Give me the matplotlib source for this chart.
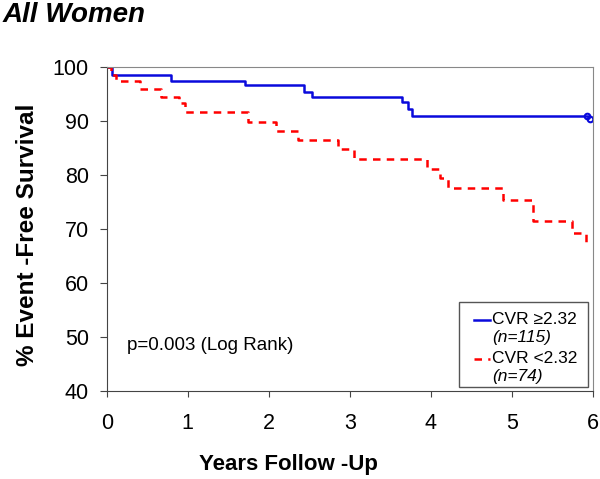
import matplotlib.pyplot as plt
from matplotlib.patches import Rectangle

plt.rcParams['font.family'] = ['Liberation Sans', 'DejaVu Sans']

# curva CVR >= 2.32 (tiempos en años, supervivencia en %)
t_alto = [0, 0.06, 0.79, 1.71, 2.43, 2.53, 3.65, 3.72, 3.77, 5.95]
s_alto = [100, 98.5, 97.5, 96.6, 95.4, 94.5, 93.6, 92.2, 91.0, 91.0]
cens_t = [5.93, 5.97]
cens_s = [90.9, 90.4]

# curva CVR < 2.32
t_bajo = [0, 0.05, 0.11, 0.41, 0.67, 0.89, 0.97, 1.74, 2.09, 2.36, 2.86,
          3.05, 3.95, 4.11, 4.21, 4.89, 5.26, 5.74, 5.92, 5.94]
s_bajo = [100, 98.5, 97.5, 95.9, 94.5, 93.3, 91.6, 89.9, 88.2, 86.5, 84.8,
          83.0, 81.2, 79.4, 77.5, 75.4, 71.4, 69.2, 67.0, 67.0]

xticks = [0, 1, 2, 3, 4, 5, 6]
yticks = [40, 50, 60, 70, 80, 90, 100]
etiquetas = ['CVR ≥2.32', 'CVR <2.32']
grupos_n = ['(n=115)', '(n=74)']

azul = '#0a0adc'
rojo = '#ff0000'

fig = plt.figure(figsize=(6, 4.79), dpi=100)
ax = fig.add_axes([0.178, 0.184, 0.81, 0.676])

ax.step(t_alto, s_alto, where='post', color=azul, lw=1.8)
ax.plot(cens_t, cens_s, 'o', mfc='none', mec=azul, ms=4, mew=1.5)
ax.step(t_bajo, s_bajo, where='post', color=rojo, lw=1.8, dashes=(3, 2.5))

ax.set_xlim(0, 6)
ax.set_ylim(40, 100)
ax.set_xticks(xticks)
ax.set_yticks(yticks)
ax.tick_params(labelsize=15.5, color='#444444')
ax.tick_params(axis='x', length=4, pad=12)
ax.tick_params(axis='y', length=5, pad=8)

for lado in ['top', 'right']:
    ax.spines[lado].set_color('#888888')
for lado in ['left', 'bottom']:
    ax.spines[lado].set_color('#444444')

ax.set_xlabel('Years Follow -Up', fontsize=16, fontweight='bold', va='center')
ax.xaxis.set_label_coords(0.374, -0.228)
ax.set_ylabel('% Event -Free Survival', fontsize=17.5, fontweight='bold',
              va='center', ha='center')
ax.yaxis.set_label_coords(-0.163, 0.481)

ax.text(0.247, 48.4, 'p=0.003 (Log Rank)', fontsize=13.5, va='center')

# leyenda dibujada a mano para poder poner la segunda línea en cursiva
ax.add_patch(Rectangle((0.725, 0.013), 0.265, 0.261, transform=ax.transAxes,
                       fill=False, edgecolor='#555555', lw=1.0))
ax.plot([0.756, 0.788], [0.219, 0.219], color=azul, lw=1.8,
        transform=ax.transAxes, clip_on=False)
ax.plot([0.756, 0.788], [0.099, 0.099], color=rojo, lw=1.8, dashes=(3, 2.5),
        transform=ax.transAxes, clip_on=False)
ax.text(0.792, 0.219, etiquetas[0], fontsize=12.5, va='center', transform=ax.transAxes)
ax.text(0.794, 0.165, grupos_n[0], fontsize=12.5, va='center', style='italic',
        transform=ax.transAxes)
ax.text(0.792, 0.099, etiquetas[1], fontsize=12.5, va='center', transform=ax.transAxes)
ax.text(0.794, 0.045, grupos_n[1], fontsize=12.5, va='center', style='italic',
        transform=ax.transAxes)

fig.text(0.005, 0.995, 'All Women', fontsize=20, fontweight='bold',
         fontstyle='italic', va='top', ha='left')

fig.savefig('out.png', dpi=100)
